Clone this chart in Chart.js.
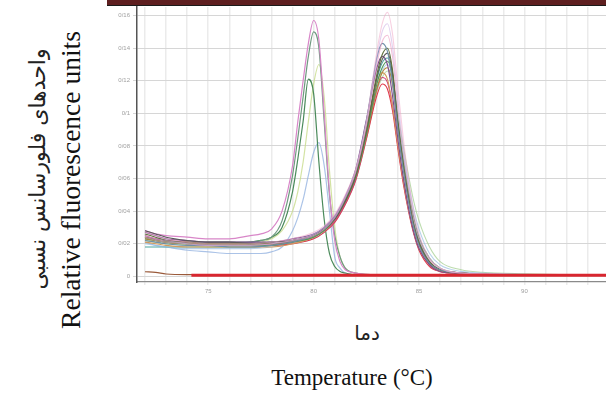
<!DOCTYPE html>
<html>
<head>
<meta charset="utf-8">
<script src="https://cdn.jsdelivr.net/npm/chart.js@4.4.1/dist/chart.umd.min.js"></script>
<style>
    html, body { margin: 0; padding: 0; background: #fff; overflow: hidden; }
    body { width: 606px; height: 394px; position: relative; }
    #top-bar { position: absolute; left: 107px; top: 0; width: 499px; height: 5px;
        background: #5e1f20; border-bottom: 1px solid #1a1a1a; }
    #chart-box { position: absolute; left: 100px; top: 0; width: 506px; height: 310px; }
    .label { position: absolute; white-space: nowrap; color: #111;
        transform: translate(-50%, -50%); }
    .label.vertical { transform: translate(-50%, -50%) rotate(-90deg); }
    .fa { font-family: "DejaVu Sans", sans-serif; color: #222; }
    .en { font-family: "Liberation Serif", "Times New Roman", serif; }
</style>
</head>
<body>
<div id="top-bar"></div>
<div id="chart-box"><canvas id="melt-curves"></canvas></div>
<div class="label vertical fa" style="left:37px; top:169px; font-size:22px;">واحدهای فلورسانس نسبی</div>
<div class="label vertical en" style="left:71px; top:180px; font-size:27.5px;">Relative fluorescence units</div>
<div class="label fa" style="left:367px; top:333px; font-size:20px;">دما</div>
<div class="label en" style="left:352px; top:378px; font-size:23px;">Temperature (°C)</div>
<script>
'use strict';

// temperatures (°C) for the main product curves
let tempsB = [72, 72.5, 73, 74, 75, 76, 77, 78, 79, 80, 80.5, 81, 81.5, 82, 82.5, 83,
    83.25, 83.5, 83.75, 84, 84.25, 84.5, 84.75, 85, 85.5, 86, 87, 88, 90, 92, 94];

// temperatures (°C) for the early-melting curves
let tempsA = [72, 72.5, 73, 74, 75, 76, 77, 77.5, 78, 78.5, 79, 79.25, 79.5, 79.75,
    80, 80.25, 80.5, 80.75, 81, 81.25, 81.5, 82, 83, 85, 90, 94];

let ntcTemps = [72, 72.5, 73, 74, 80, 94];
let ntcValues = [0.0028, 0.0024, 0.0014, 0.001, 0.001, 0.001];

let thresholdTemps = [74.2, 94];
let thresholdValues = [0.0006, 0.0006];

let curvesB = [
    [0.027, 0.025, 0.023, 0.021, 0.020, 0.020, 0.020, 0.021, 0.023, 0.027, 0.031, 0.038, 0.050, 0.066, 0.095, 0.138, 0.155, 0.162, 0.148, 0.115, 0.085, 0.060, 0.040, 0.026, 0.011, 0.005, 0.002, 0.0015, 0.001, 0.001, 0.001],
    [0.025, 0.023, 0.022, 0.020, 0.019, 0.019, 0.019, 0.020, 0.022, 0.026, 0.030, 0.037, 0.049, 0.065, 0.094, 0.134, 0.150, 0.155, 0.140, 0.108, 0.080, 0.057, 0.038, 0.025, 0.011, 0.005, 0.002, 0.0015, 0.001, 0.001, 0.001],
    [0.024, 0.022, 0.021, 0.020, 0.019, 0.019, 0.019, 0.020, 0.022, 0.025, 0.029, 0.036, 0.048, 0.064, 0.092, 0.130, 0.144, 0.148, 0.134, 0.102, 0.075, 0.053, 0.035, 0.023, 0.010, 0.005, 0.002, 0.0015, 0.001, 0.001, 0.001],
    [0.022, 0.021, 0.020, 0.019, 0.019, 0.018, 0.018, 0.019, 0.021, 0.025, 0.029, 0.036, 0.048, 0.065, 0.095, 0.134, 0.143, 0.138, 0.118, 0.090, 0.066, 0.046, 0.030, 0.019, 0.008, 0.004, 0.002, 0.0013, 0.001, 0.001, 0.001],
    [0.026, 0.024, 0.022, 0.021, 0.020, 0.020, 0.020, 0.020, 0.022, 0.025, 0.029, 0.036, 0.047, 0.063, 0.090, 0.124, 0.136, 0.140, 0.126, 0.094, 0.069, 0.049, 0.032, 0.021, 0.009, 0.004, 0.002, 0.0013, 0.001, 0.001, 0.001],
    [0.028, 0.026, 0.024, 0.022, 0.021, 0.021, 0.020, 0.021, 0.022, 0.025, 0.029, 0.035, 0.046, 0.062, 0.089, 0.122, 0.133, 0.137, 0.124, 0.093, 0.068, 0.048, 0.031, 0.020, 0.008, 0.004, 0.002, 0.0013, 0.001, 0.001, 0.001],
    [0.027, 0.025, 0.023, 0.022, 0.021, 0.021, 0.021, 0.021, 0.023, 0.026, 0.030, 0.037, 0.049, 0.066, 0.096, 0.128, 0.135, 0.130, 0.110, 0.084, 0.061, 0.042, 0.027, 0.017, 0.007, 0.003, 0.0018, 0.0012, 0.001, 0.001, 0.001],
    [0.024, 0.022, 0.021, 0.020, 0.019, 0.019, 0.019, 0.019, 0.021, 0.024, 0.028, 0.035, 0.046, 0.061, 0.087, 0.118, 0.128, 0.132, 0.122, 0.095, 0.072, 0.052, 0.036, 0.024, 0.011, 0.005, 0.002, 0.0014, 0.001, 0.001, 0.001],
    [0.023, 0.022, 0.021, 0.020, 0.020, 0.020, 0.020, 0.020, 0.022, 0.025, 0.029, 0.035, 0.046, 0.061, 0.086, 0.115, 0.125, 0.128, 0.117, 0.089, 0.066, 0.047, 0.031, 0.020, 0.008, 0.004, 0.002, 0.0013, 0.001, 0.001, 0.001],
    [0.021, 0.020, 0.019, 0.018, 0.018, 0.018, 0.018, 0.018, 0.020, 0.024, 0.028, 0.035, 0.046, 0.062, 0.089, 0.119, 0.125, 0.121, 0.104, 0.080, 0.059, 0.041, 0.027, 0.017, 0.007, 0.003, 0.0018, 0.0012, 0.001, 0.001, 0.001],
    [0.025, 0.023, 0.022, 0.021, 0.020, 0.020, 0.020, 0.020, 0.021, 0.024, 0.028, 0.034, 0.045, 0.060, 0.086, 0.115, 0.122, 0.119, 0.104, 0.080, 0.059, 0.041, 0.027, 0.017, 0.007, 0.003, 0.0018, 0.0012, 0.001, 0.001, 0.001],
    [0.024, 0.022, 0.021, 0.020, 0.019, 0.019, 0.019, 0.019, 0.020, 0.023, 0.027, 0.033, 0.044, 0.059, 0.084, 0.111, 0.118, 0.115, 0.101, 0.078, 0.057, 0.040, 0.026, 0.016, 0.006, 0.003, 0.0017, 0.0012, 0.001, 0.001, 0.001],
    [0.020, 0.019, 0.018, 0.017, 0.017, 0.017, 0.017, 0.018, 0.020, 0.023, 0.027, 0.033, 0.044, 0.059, 0.084, 0.114, 0.126, 0.130, 0.122, 0.098, 0.076, 0.057, 0.041, 0.029, 0.014, 0.007, 0.003, 0.002, 0.0012, 0.001, 0.001],
    [0.022, 0.021, 0.020, 0.019, 0.018, 0.018, 0.018, 0.019, 0.021, 0.024, 0.028, 0.034, 0.045, 0.060, 0.085, 0.113, 0.122, 0.126, 0.120, 0.099, 0.080, 0.062, 0.046, 0.034, 0.018, 0.009, 0.004, 0.0025, 0.0015, 0.001, 0.001],
    [0.018, 0.018, 0.018, 0.018, 0.018, 0.018, 0.018, 0.019, 0.021, 0.025, 0.029, 0.036, 0.047, 0.063, 0.090, 0.121, 0.131, 0.134, 0.123, 0.094, 0.070, 0.050, 0.033, 0.022, 0.009, 0.004, 0.002, 0.0013, 0.001, 0.001, 0.001],
];
let colorsB = ['rgba(240,170,200,0.55)', 'rgba(200,170,225,0.55)', 'rgba(235,150,190,0.6)',
    '#6f8fa8', '#5f6f3c', '#5a5a5a', '#7d4b8f', '#4f9a5a', '#b08a3c', '#d49a5c',
    '#d0407a', '#e03a4a', 'rgba(150,190,225,0.7)', 'rgba(160,205,140,0.7)', '#4aa5a0'];

let curvesA = [
    [0.028, 0.026, 0.025, 0.024, 0.023, 0.023, 0.025, 0.026, 0.029, 0.040, 0.068, 0.095, 0.120, 0.143, 0.157, 0.145, 0.100, 0.052, 0.022, 0.009, 0.004, 0.002, 0.001, 0.001, 0.001, 0.001],
    [0.024, 0.023, 0.022, 0.021, 0.021, 0.021, 0.021, 0.022, 0.024, 0.034, 0.062, 0.085, 0.110, 0.135, 0.150, 0.140, 0.095, 0.050, 0.025, 0.012, 0.005, 0.002, 0.001, 0.001, 0.001, 0.001],
    [0.023, 0.022, 0.021, 0.020, 0.020, 0.020, 0.021, 0.022, 0.024, 0.030, 0.052, 0.072, 0.095, 0.121, 0.112, 0.070, 0.035, 0.014, 0.006, 0.003, 0.002, 0.001, 0.001, 0.001, 0.001, 0.001],
    [0.022, 0.021, 0.020, 0.020, 0.019, 0.019, 0.020, 0.021, 0.023, 0.028, 0.040, 0.052, 0.070, 0.095, 0.118, 0.130, 0.110, 0.065, 0.030, 0.012, 0.005, 0.002, 0.001, 0.001, 0.001, 0.001],
    [0.021, 0.019, 0.018, 0.016, 0.015, 0.014, 0.014, 0.014, 0.015, 0.018, 0.028, 0.036, 0.047, 0.062, 0.076, 0.082, 0.068, 0.040, 0.012, 0.005, 0.002, 0.001, 0.001, 0.001, 0.001, 0.001],
];
let colorsA = ['#d886c8', '#6f9a80', '#4a8a5a', 'rgba(200,220,140,0.8)', 'rgba(150,180,225,0.8)'];

window.toPoints = function (temps, values) {
    return temps.map((t, i) => ({x: t, y: values[i]}));
};

window.lineSet = function (temps, values, color, width) {
    return {
        data: toPoints(temps, values),
        borderColor: color,
        borderWidth: width,
        pointRadius: 0,
        cubicInterpolationMode: 'monotone',
        fill: false,
    };
};

let datasets = [];
datasets.push(lineSet(thresholdTemps, thresholdValues, '#d8262f', 3));
datasets.push(lineSet(ntcTemps, ntcValues, '#9a5a3a', 1.2));
curvesB.forEach((vals, i) => datasets.push(lineSet(tempsB, vals, colorsB[i], 1.1)));
curvesA.forEach((vals, i) => datasets.push(lineSet(tempsA, vals, colorsA[i], 1.2)));

let ctx = document.getElementById('melt-curves').getContext('2d');
window.meltChart = new Chart(ctx, {
    type: 'line',
    data: {datasets: datasets},
    options: {
        responsive: true,
        maintainAspectRatio: false,
        animation: false,
        layout: {padding: {top: 7, left: 0, right: 0, bottom: 0}},
        plugins: {legend: {display: false}, tooltip: {enabled: false}},
        scales: {
            x: {
                type: 'linear',
                min: 71.62,
                max: 93.87,
                afterFit: function (scale) { scale.height = 28; },
                border: {color: '#8a8a8a', width: 1.2},
                grid: {color: '#ebebeb', lineWidth: 1.5, tickLength: 3},
                ticks: {
                    stepSize: 1,
                    autoSkip: false,
                    includeBounds: false,
                    maxRotation: 0,
                    color: '#a0a0a0',
                    font: {size: 6},
                    padding: 3,
                    callback: function (value) {
                        return Math.abs(value % 5) < 1e-6 ? String(value) : '';
                    },
                },
            },
            y: {
                min: -0.0035,
                max: 0.1653,
                afterFit: function (scale) { scale.width = 37; },
                border: {color: '#555', width: 1.5},
                grid: {color: '#d6d6d6', lineWidth: 1, tickLength: 4},
                ticks: {
                    stepSize: 0.02,
                    includeBounds: false,
                    color: '#a0a0a0',
                    font: {size: 6},
                    padding: 3,
                    callback: function (value) {
                        return String(parseFloat(value.toFixed(2))).replace('.', '/');
                    },
                },
            },
        },
    },
});
</script>
</body>
</html>
